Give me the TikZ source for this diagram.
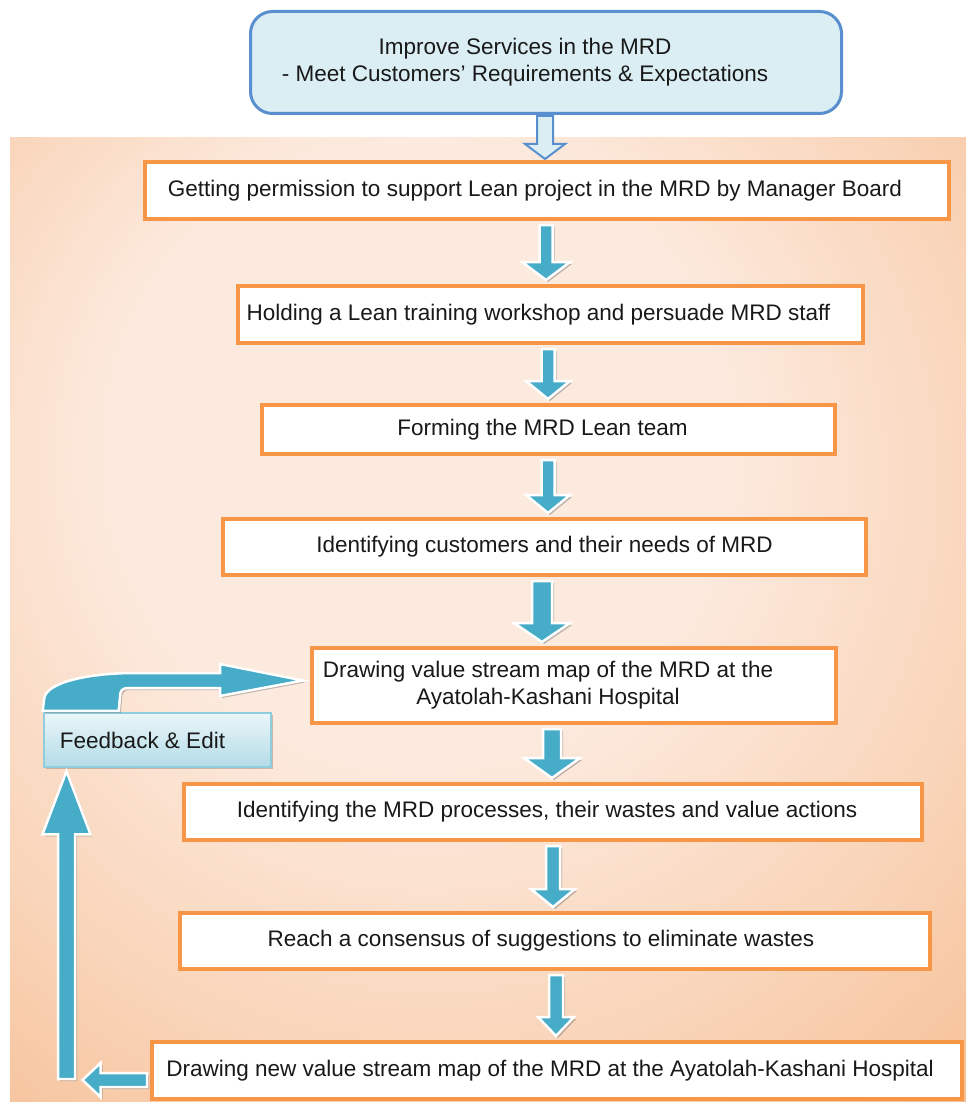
\documentclass[tikz,border=0pt]{standalone}
\usepackage{fontspec}
\setmainfont{Liberation Sans}
\usetikzlibrary{calc,shadows}
\definecolor{bgA}{HTML}{FCEADE}
\definecolor{bgB}{HTML}{F9D4B8}
\definecolor{bgC}{HTML}{F5BA8D}
\definecolor{boxor}{HTML}{F79646}
\definecolor{topfill}{HTML}{DBEEF4}
\definecolor{topline}{HTML}{5A8FCF}
\definecolor{arrteal}{HTML}{46ACC8}
\definecolor{fbtop}{HTML}{EAF6F9}
\definecolor{fbbot}{HTML}{B3DCE7}
\definecolor{fbline}{HTML}{8FCCDC}
\pgfdeclareradialshading{bgshade}{\pgfpoint{-4.6bp}{11.4bp}}{color(0bp)=(bgA); color(16bp)=(bgA); color(30bp)=(bgB); color(44bp)=(bgC); color(70bp)=(bgC)}
\newcommand\blkdown[7]{%
  \path[#7] ($(#1|-#2.south)+(-#4,4)$) -- ($(#1|-#2.south)+(#4,4)$)
    -- ($(#1|-#3.north)+(#4,-#6-4)$) -- ($(#1|-#3.north)+(#5,-#6-4)$)
    -- ($(#1|-#3.north)+(0,-4)$) -- ($(#1|-#3.north)+(-#5,-#6-4)$)
    -- ($(#1|-#3.north)+(-#4,-#6-4)$) -- cycle;}
\begin{document}
\begin{tikzpicture}[x=1pt,y=-1pt,
  txt/.style={font=\fontsize{22.5}{27}\selectfont, text=black!90},
  stepbox/.style={txt, draw=boxor, line width=4pt, fill=white, inner sep=0pt},
  topbox/.style={txt, draw=topline, line width=3pt, fill=topfill, rounded corners=22pt, inner sep=0pt},
  fbbox/.style={txt, draw=fbline, line width=2.5pt, top color=fbtop, bottom color=fbbot, inner sep=0pt,
    drop shadow={shadow xshift=2pt, shadow yshift=-2pt, opacity=0.3, fill=black!70}},
  blk/.style={fill=arrteal, draw=white, line width=2.5pt, line join=miter,
    drop shadow={shadow xshift=2pt, shadow yshift=-2pt, opacity=0.35, fill=black!70}},
  hollowarr/.style={fill=topfill, draw=topline, line width=2pt, line join=miter}]
\useasboundingbox (0,0) rectangle (966,1102);
\fill[white] (0,0) rectangle (966,1102);
\shade[shading=bgshade] (10,138) rectangle (966,1102);

\node[topbox, minimum width=591pt, minimum height=102pt] (top) at (546,62.5)
  {\begin{tabular}{@{}c@{}}Improve Services in the MRD\\- Meet Customers’ Requirements \& Expectations\end{tabular}\hspace*{42pt}};

\node[stepbox, minimum width=804pt, minimum height=57pt] (b1) at (547,190.5)
  {Getting permission to support Lean project in the MRD by Manager Board\hspace*{24pt}};
\node[stepbox, minimum width=625pt, minimum height=57pt] (b2) at (550.5,314.5)
  {Holding a Lean training workshop and persuade MRD staff\hspace*{24pt}};
\node[stepbox, minimum width=573pt, minimum height=49pt] (b3) at (548.5,429.5)
  {Forming the MRD Lean team\hspace*{12pt}};
\node[stepbox, minimum width=643pt, minimum height=56pt] (b4) at (544.5,547)
  {Identifying customers and their needs of MRD};
\node[stepbox, minimum width=524pt, minimum height=75pt] (b5) at (574,685.5)
  {\begin{tabular}{@{}c@{}}Drawing value stream map of the MRD at the\\Ayatolah-Kashani Hospital\end{tabular}\hspace*{52pt}};
\node[stepbox, minimum width=738pt, minimum height=56pt] (b6) at (553,812)
  {Identifying the MRD processes, their wastes and value actions\hspace*{12pt}};
\node[stepbox, minimum width=750pt, minimum height=56pt] (b7) at (555,941)
  {Reach a consensus of suggestions to eliminate wastes\hspace*{28pt}};
\node[stepbox, minimum width=810pt, minimum height=57pt] (b8) at (557,1070.5)
  {Drawing new value stream map of the MRD at the Ayatolah-Kashani Hospital\hspace*{14pt}};

\node[fbbox, minimum width=227pt, minimum height=54pt] (fb) at (157.5,740)
  {Feedback \& Edit\hspace*{30pt}};

% top hollow arrow
\coordinate (xa0) at (545,0);
\path[hollowarr] ($(xa0|-top.south)+(-8,1)$) -- ($(xa0|-top.south)+(8,1)$)
  -- ($(xa0|-b1.north)+(8,-16)$) -- ($(xa0|-b1.north)+(20,-16)$)
  -- ($(xa0|-b1.north)+(0,-1)$) -- ($(xa0|-b1.north)+(-20,-16)$)
  -- ($(xa0|-b1.north)+(-8,-16)$) -- cycle;

% down arrows
\coordinate (xa1) at (546,0);
\coordinate (xa2) at (548,0);
\coordinate (xa3) at (548,0);
\coordinate (xa4) at (542,0);
\coordinate (xa5) at (552,0);
\coordinate (xa6) at (553,0);
\coordinate (xa7) at (556,0);
\blkdown{xa1}{b1}{b2}{6.5}{24}{18}{blk}
\blkdown{xa2}{b2}{b3}{6.5}{22}{18}{blk}
\blkdown{xa3}{b3}{b4}{6.5}{22}{18}{blk}
\blkdown{xa4}{b4}{b5}{10}{28}{19}{blk}
\blkdown{xa5}{b5}{b6}{9}{28}{20}{blk}
\blkdown{xa6}{b6}{b7}{7}{22}{18}{blk}
\blkdown{xa7}{b7}{b8}{7}{18}{19}{blk}

% feedback loop
\coordinate (xu) at (66.5,0);
\coordinate (yl) at (0,1080);
\path[blk] ($(b8.west|-yl)+(-3,-7)$) -- ($(xu|-yl)+(34,-7)$) -- ($(xu|-yl)+(34,-17)$)
  -- ($(xu|-yl)+(16,0)$) -- ($(xu|-yl)+(34,17)$) -- ($(xu|-yl)+(34,7)$)
  -- ($(b8.west|-yl)+(-3,7)$) -- cycle;
\path[blk] ($(xu|-yl)+(-8.5,-1)$) -- ($(xu|-yl)+(8.5,-1)$)
  -- ($(xu|-fb.south)+(8.5,66)$) -- ($(xu|-fb.south)+(24,66)$)
  -- ($(xu|-fb.south)+(0,3)$) -- ($(xu|-fb.south)+(-24,66)$)
  -- ($(xu|-fb.south)+(-8.5,66)$) -- cycle;
\path[blk] ($(fb.north west)+(0,-1)$) -- (44,700) .. controls (44,682) and (90,673) .. (135,673)
  -- (220,673) -- (220,664) -- ($(b5.west)+(-7,-5)$) -- (220,696) -- (220,688)
  -- (128,688) .. controls (122,688) and (120,691) .. (120,697) -- ($(fb.north west)+(76,-1)$) -- cycle;
\end{tikzpicture}
\end{document}
